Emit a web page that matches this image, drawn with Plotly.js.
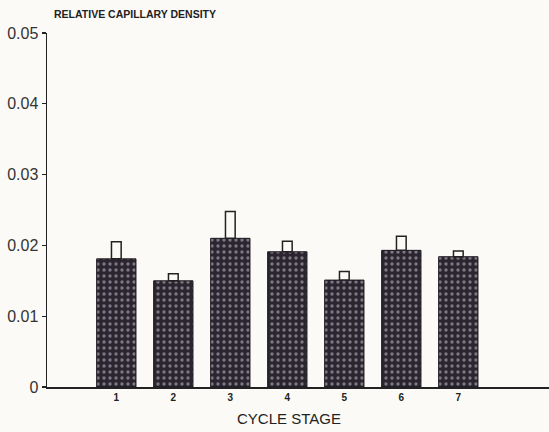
<!DOCTYPE html>
<html>
<head>
<meta charset="utf-8">
<script src="https://cdn.plot.ly/plotly-3.0.1.min.js"></script>
<style>
html,body{margin:0;padding:0;background:#fbfaf6;}
#chart{width:549px;height:432px;}
</style>
</head>
<body>
<div id="chart"></div>
<script>
var stages = [1, 2, 3, 4, 5, 6, 7];
var stageLabels = ['1', '2', '3', '4', '5', '6', '7'];
var meanDensity = [0.0181, 0.0150, 0.0210, 0.0191, 0.0151, 0.0193, 0.0184];
var errDensity = [0.0024, 0.0010, 0.0038, 0.0015, 0.0012, 0.0020, 0.0008];
var yTickVals = [0, 0.01, 0.02, 0.03, 0.04, 0.05];
var yTickText = ['0', '0.01', '0.02', '0.03', '0.04', '0.05'];

var bars = {
  type: 'bar',
  x: stages,
  y: meanDensity,
  width: 0.69,
  marker: {
    color: '#2b2530',
    line: {color: '#1c181f', width: 1},
    pattern: {shape: '.', bgcolor: '#2b2530', fgcolor: '#7d7884', size: 6, solidity: 0.25, fillmode: 'replace'}
  },
  hoverinfo: 'x+y'
};

var errBoxes = {
  type: 'bar',
  x: stages,
  y: errDensity,
  base: meanDensity,
  width: 0.17,
  marker: {color: '#fbfaf6', line: {color: '#222', width: 1.5}},
  hoverinfo: 'skip'
};

var layout = {
  width: 549,
  height: 432,
  margin: {l: 47, r: 0, t: 33, b: 45},
  paper_bgcolor: '#fbfaf6',
  plot_bgcolor: '#fbfaf6',
  showlegend: false,
  barmode: 'overlay',
  font: {family: 'Liberation Sans, Arial, sans-serif', color: '#222'},
  xaxis: {
    range: [-0.216, 8.591],
    tickvals: stages,
    ticktext: stageLabels,
    tickfont: {size: 10, family: 'Liberation Sans, Arial, sans-serif', color: '#222', weight: 'bold'},
    showline: true,
    linecolor: '#222',
    linewidth: 1.5,
    ticks: '',
    showgrid: false,
    zeroline: false,
    fixedrange: true
  },
  yaxis: {
    range: [0, 0.05],
    tickvals: yTickVals,
    ticktext: yTickText,
    tickfont: {size: 16, color: '#333'},
    ticks: 'outside',
    ticklen: 4,
    tickwidth: 1.2,
    tickcolor: '#222',
    showline: true,
    linecolor: '#222',
    linewidth: 1.5,
    showgrid: false,
    zeroline: false,
    fixedrange: true
  },
  annotations: [
    {
      text: '<b>RELATIVE CAPILLARY DENSITY</b>',
      xref: 'paper', yref: 'paper',
      x: 0.01, y: 1.054,
      xanchor: 'left', yanchor: 'middle',
      showarrow: false,
      font: {size: 10.5, color: '#222'}
    },
    {
      text: 'CYCLE STAGE',
      xref: 'x', yref: 'paper',
      x: 4.03, y: -0.09,
      xanchor: 'center', yanchor: 'middle',
      showarrow: false,
      font: {size: 15, color: '#222'}
    }
  ]
};

Plotly.newPlot('chart', [bars, errBoxes], layout, {displayModeBar: false, staticPlot: true});
</script>
</body>
</html>
